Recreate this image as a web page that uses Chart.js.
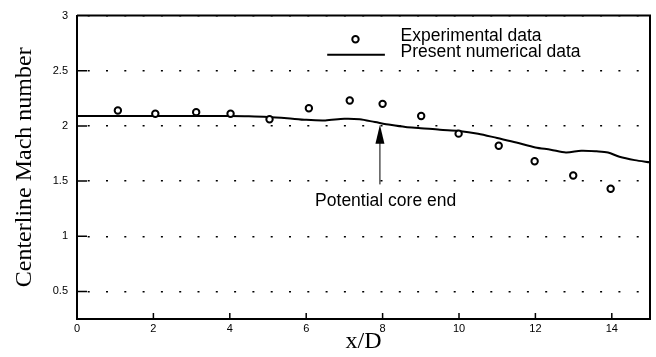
<!DOCTYPE html>
<html>
<head>
<meta charset="utf-8">
<script src="https://cdn.jsdelivr.net/npm/chart.js@4"></script>
<style>
  html, body { margin: 0; padding: 0; background: #fff; }
  #wrap { width: 656px; height: 357px; }
</style>
</head>
<body>
<div id="wrap"><canvas id="chart" width="656" height="357"></canvas></div>
<script>
// experimental points (x/D, Mach)
const expX = [1.07, 2.05, 3.12, 4.02, 5.04, 6.07, 7.14, 8.0, 9.01, 9.99, 11.04, 11.98, 12.99, 13.97];
const expY = [2.14, 2.11, 2.125, 2.11, 2.06, 2.16, 2.23, 2.2, 2.09, 1.93, 1.82, 1.68, 1.55, 1.43];

// present numerical line
const numX = [0, 1, 2, 3, 4, 4.5, 5, 5.5, 6, 6.5, 7, 7.4, 7.8, 8.2, 8.6, 9, 9.5, 10, 10.5, 11, 11.5, 12, 12.4, 12.8, 13.2, 13.6, 13.9, 14.2, 14.6, 15];
const numY = [2.09, 2.09, 2.09, 2.09, 2.09, 2.088, 2.082, 2.07, 2.055, 2.05, 2.065, 2.06, 2.035, 2.01, 1.99, 1.98, 1.965, 1.955, 1.93, 1.89, 1.85, 1.805, 1.785, 1.76, 1.775, 1.77, 1.76, 1.72, 1.69, 1.67];

const xTicks = [0, 2, 4, 6, 8, 10, 12, 14];
const yTicks = [0.5, 1, 1.5, 2, 2.5, 3];

const legendLabels = ['Experimental data', 'Present numerical data'];
const noteText = 'Potential core end';
const noteX = 7.93; // arrow position

const sans = '"Liberation Sans", Arial, sans-serif';
const serif = '"Liberation Serif", "Times New Roman", serif';

// extra drawing: inward ticks, frame, legend, arrow note
const extras = {
    id: 'extras',
    afterDraw(chart) {
        const ctx = chart.ctx;
        const xs = chart.scales.x, ys = chart.scales.y;
        const a = chart.chartArea;
        ctx.save();
        ctx.strokeStyle = '#000';
        ctx.fillStyle = '#000';

        // top + right frame
        ctx.lineWidth = 2;
        ctx.beginPath();
        ctx.moveTo(a.left, a.top);
        ctx.lineTo(a.right, a.top);
        ctx.lineTo(a.right, a.bottom);
        ctx.stroke();

        // inward ticks
        ctx.lineWidth = 1.5;
        ctx.beginPath();
        xTicks.forEach(v => {
            const px = xs.getPixelForValue(v);
            ctx.moveTo(px, a.bottom);
            ctx.lineTo(px, a.bottom - 6);
        });
        yTicks.forEach(v => {
            if (v === 3) return;
            const py = ys.getPixelForValue(v);
            ctx.moveTo(a.left, py);
            ctx.lineTo(a.left + 10, py);
        });
        ctx.stroke();

        // legend
        ctx.font = '17.5px ' + sans;
        ctx.textBaseline = 'middle';
        ctx.textAlign = 'left';
        const tx = xs.getPixelForValue(8.47);
        const r1 = ys.getPixelForValue(2.815);
        const r2 = ys.getPixelForValue(2.672);
        ctx.fillText(legendLabels[0], tx, r1);
        ctx.fillText(legendLabels[1], tx, r2);
        ctx.lineWidth = 2;
        ctx.beginPath();
        ctx.arc(xs.getPixelForValue(7.29), ys.getPixelForValue(2.786), 3.2, 0, Math.PI * 2);
        ctx.stroke();
        ctx.beginPath();
        ctx.moveTo(xs.getPixelForValue(6.55), ys.getPixelForValue(2.645));
        ctx.lineTo(xs.getPixelForValue(8.06), ys.getPixelForValue(2.645));
        ctx.stroke();

        // arrow
        const ax = xs.getPixelForValue(noteX);
        const tip = ys.getPixelForValue(2.01);
        ctx.lineWidth = 1;
        ctx.beginPath();
        ctx.moveTo(ax, ys.getPixelForValue(1.47));
        ctx.lineTo(ax, tip + 10);
        ctx.stroke();
        ctx.beginPath();
        ctx.moveTo(ax, tip);
        ctx.lineTo(ax - 4.5, tip + 19);
        ctx.lineTo(ax + 4.5, tip + 19);
        ctx.closePath();
        ctx.fill();

        ctx.textAlign = 'center';
        ctx.fillText(noteText, xs.getPixelForValue(8.08), ys.getPixelForValue(1.32));
        ctx.restore();
    }
};

const ctx = document.getElementById('chart').getContext('2d');
new Chart(ctx, {
    type: 'scatter',
    data: {
        datasets: [
            {
                label: legendLabels[0],
                data: expX.map((x, i) => ({ x: x, y: expY[i] })),
                pointStyle: 'circle',
                pointRadius: 3.2,
                pointBorderWidth: 2,
                pointBorderColor: '#000',
                pointBackgroundColor: '#fff',
                showLine: false,
                order: 0
            },
            {
                label: legendLabels[1],
                data: numX.map((x, i) => ({ x: x, y: numY[i] })),
                showLine: true,
                borderColor: '#000',
                borderWidth: 2,
                pointRadius: 0,
                tension: 0.3,
                order: 1
            }
        ]
    },
    options: {
        responsive: false,
        animation: false,
        layout: { padding: { top: 11, right: 2, left: 0, bottom: 0 } },
        plugins: {
            legend: { display: false },
            tooltip: { enabled: false }
        },
        scales: {
            x: {
                type: 'linear',
                min: 0,
                max: 15,
                afterBuildTicks: s => { s.ticks = xTicks.map(v => ({ value: v })); },
                afterFit: s => { s.height = 38; },
                grid: { display: false, drawTicks: false },
                border: { display: true, color: '#000', width: 2 },
                ticks: {
                    color: '#000',
                    padding: 3,
                    callback: v => String(v),
                    font: { family: sans, size: 11 }
                },
                title: {
                    display: true,
                    text: 'x/D',
                    color: '#000',
                    font: { family: serif, size: 24 },
                    padding: { top: 0, bottom: 1 }
                }
            },
            y: {
                type: 'linear',
                min: 0.25,
                max: 3,
                afterBuildTicks: s => { s.ticks = yTicks.map(v => ({ value: v })); },
                afterFit: s => { s.width = 77; },
                grid: {
                    drawTicks: false,
                    color: '#000',
                    lineWidth: 1.5
                },
                border: { display: true, color: '#000', width: 2, dash: [2, 16.3], dashOffset: 8.6 },
                ticks: {
                    color: '#000',
                    padding: 9,
                    callback: v => String(v),
                    font: { family: sans, size: 11 }
                },
                title: {
                    display: true,
                    text: 'Centerline Mach number',
                    color: '#000',
                    font: { family: serif, size: 24 },
                    padding: { top: 10, bottom: 0 }
                }
            }
        }
    },
    plugins: [extras]
});
</script>
</body>
</html>
